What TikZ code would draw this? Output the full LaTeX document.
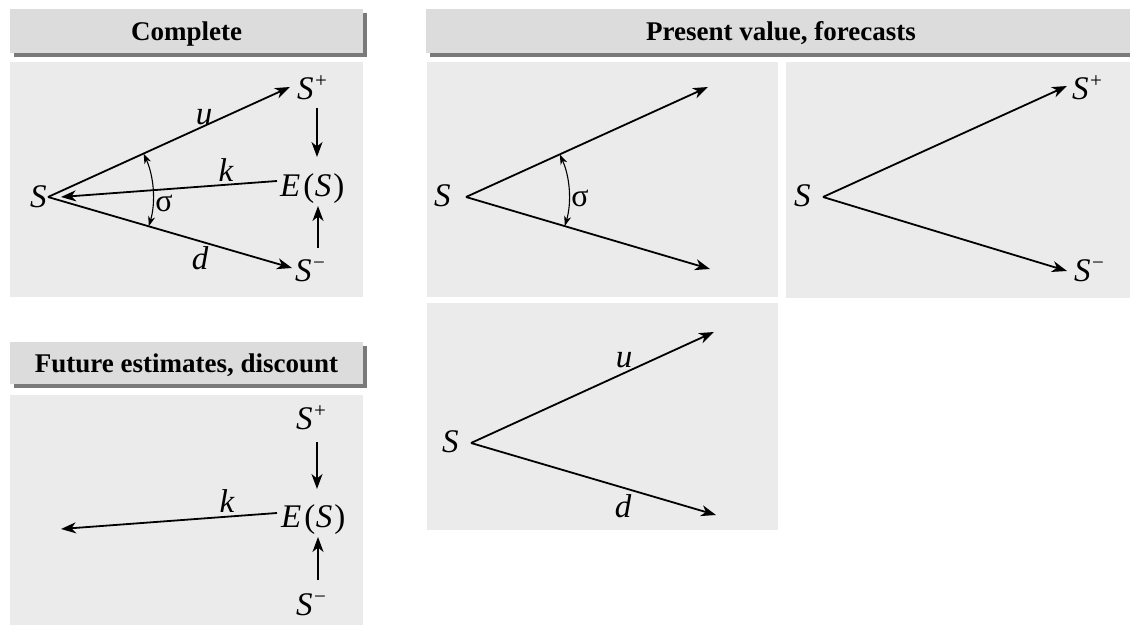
\documentclass[tikz,border=0pt]{standalone}
\usepackage{fontspec}
\setmainfont{Liberation Serif}
\usetikzlibrary{arrows.meta,calc}
\definecolor{hdrgray}{HTML}{DCDCDC}
\definecolor{shdgray}{HTML}{7A7A7A}
\definecolor{pnlgray}{HTML}{EBEBEB}
\newcommand\supP{\raisebox{12pt}{\fontsize{21pt}{21pt}\selectfont\upshape +}}
\newcommand\supM{\raisebox{12pt}{\fontsize{21pt}{21pt}\selectfont\upshape −}}
\newcommand\mySp{S\kern1.5pt\supP}
\newcommand\mySm{S\kern1.5pt\supM}
\newcommand\myES{E\kern3pt{\upshape(}\kern0.5pt S\kern2pt{\upshape)}}
\begin{document}
\begin{tikzpicture}[x=1pt,y=1pt,
  pnl/.style={fill=pnlgray},
  hbox/.style={fill=hdrgray},
  hshadow/.style={fill=shdgray},
  htext/.style={font=\fontsize{27pt}{27pt}\selectfont\bfseries, inner sep=0pt, anchor=base},
  lbl/.style={font=\fontsize{33pt}{33pt}\selectfont\itshape, inner sep=0pt},
  sglbl/.style={font=\fontsize{32pt}{32pt}\selectfont, inner sep=0pt, anchor=base},
  arr/.style={line width=1.8pt, -{Stealth[length=15pt,width=11pt,inset=4.5pt]}},
  sig/.style={line width=1.1pt, {Stealth[length=10pt,width=7pt,inset=3pt]}-{Stealth[length=10pt,width=7pt,inset=3pt]}},
]
\useasboundingbox (0,0) rectangle (1130,627);
\fill[white] (0,0) rectangle (1130,627);

% headers
\fill[hshadow] (14,570) rectangle (367,614);
\fill[hbox] (10,574) rectangle (363,618);
\fill[hshadow] (14,239) rectangle (367,281);
\fill[hbox] (10,243) rectangle (363,285);
\fill[hshadow] (430,570) rectangle (1130,614);
\fill[hbox] (426,574) rectangle (1130,618);
\node[htext] (h1) at (186.5,586) {Complete};
\node[htext] (h2) at (186.5,254) {Future estimates, discount};
\node[htext] (h3) at (781,586) {Present value, forecasts};

% panels
\fill[pnl] (10,330) rectangle (363,565);
\fill[pnl] (10,2) rectangle (363,232);
\fill[pnl] (427,330) rectangle (778,565);
\fill[pnl] (786,329) rectangle (1130,565);
\fill[pnl] (427,97) rectangle (778,324);

% ---------- panel 1: Complete
\coordinate (V1) at (48,430);
\coordinate (U1) at (290,540);
\coordinate (D1) at (292,359);
\coordinate (K1s) at (277,446);
\coordinate (K1e) at (61,430);
\coordinate (A1s) at (317,519);
\coordinate (A1e) at (317,470);
\coordinate (B1s) at (318,379);
\coordinate (B1e) at (318,421);
\node[lbl, anchor=base west] (S1) at (30,419) {S};
\node[lbl, anchor=base west] (Sp1) at (297,527) {\mySp};
\node[lbl, anchor=base west] (Sm1) at (295,345) {\mySm};
\node[lbl, anchor=base west] (E1) at (280,430) {\myES};
\node[lbl, anchor=base] (u1) at (204,502) {u};
\node[lbl, anchor=base] (d1) at (200,357) {d};
\node[lbl, anchor=base] (k1) at (226,445) {k};
\node[sglbl] (g1) at (164,415) {σ};
\draw[arr] (V1) -- (U1);
\draw[arr] (V1) -- (D1);
\draw[arr] (K1s) -- (K1e);
\draw[arr] (A1s) -- (A1e);
\draw[arr] (B1s) -- (B1e);
\draw[sig] ($(V1)+(24.4:105)$) arc[start angle=24.4, end angle=-16.2, radius=105];

% ---------- panel 2: Future estimates, discount
\coordinate (K2s) at (277,114);
\coordinate (K2e) at (61,98);
\coordinate (A2s) at (317,185);
\coordinate (A2e) at (317,138);
\coordinate (B2s) at (318,47);
\coordinate (B2e) at (318,90);
\node[lbl, anchor=base west] (Sp2) at (296,197) {\mySp};
\node[lbl, anchor=base west] (E2) at (281,100) {\myES};
\node[lbl, anchor=base west] (Sm2) at (296,12) {\mySm};
\node[lbl, anchor=base] (k2) at (227,115) {k};
\draw[arr] (K2s) -- (K2e);
\draw[arr] (A2s) -- (A2e);
\draw[arr] (B2s) -- (B2e);

% ---------- panel 3a: sigma
\coordinate (V3) at (466,430);
\coordinate (U3) at (708,540);
\coordinate (D3) at (710,358);
\node[lbl, anchor=base west] (S3) at (434,420) {S};
\node[sglbl] (g3) at (580,420) {σ};
\draw[arr] (V3) -- (U3);
\draw[arr] (V3) -- (D3);
\draw[sig] ($(V3)+(24.4:103)$) arc[start angle=24.4, end angle=-16.4, radius=103];

% ---------- panel 3b: forecasts
\coordinate (V4) at (823,430);
\coordinate (U4) at (1067,541);
\coordinate (D4) at (1067,356);
\node[lbl, anchor=base west] (S4) at (794,420) {S};
\node[lbl, anchor=base west] (Sp4) at (1072,527) {\mySp};
\node[lbl, anchor=base west] (Sm4) at (1074,345) {\mySm};
\draw[arr] (V4) -- (U4);
\draw[arr] (V4) -- (D4);

% ---------- panel 3c: u, d
\coordinate (V5) at (471,184);
\coordinate (U5) at (714,295);
\coordinate (D5) at (716,112);
\node[lbl, anchor=base west] (S5) at (442,174) {S};
\node[lbl, anchor=base] (u5) at (624,259) {u};
\node[lbl, anchor=base] (d5) at (623,110) {d};
\draw[arr] (V5) -- (U5);
\draw[arr] (V5) -- (D5);
\end{tikzpicture}
\end{document}
